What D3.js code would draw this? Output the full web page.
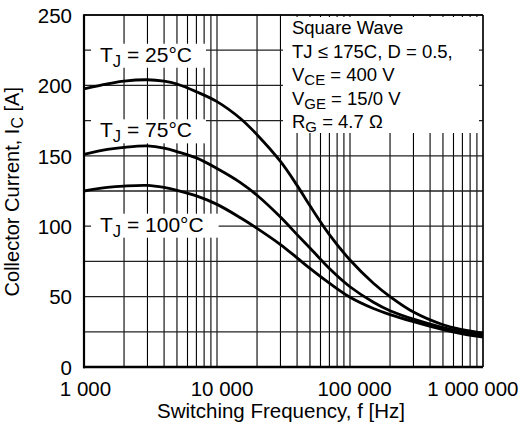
<!DOCTYPE html>
<html><head><meta charset="utf-8">
<script src="https://cdn.jsdelivr.net/npm/d3@7"></script>
<style>
body{margin:0;background:#fff}
svg{display:block}
text{font-family:"Liberation Sans",Arial,Helvetica,sans-serif;fill:#000}
</style>
</head><body>
<svg id="chart" width="525" height="428"></svg>
<script>
// ---- data ----
const freq   = [1000,1500,2000,3000,4000,5000,7000,10000,15000,20000,30000,40000,50000,70000,100000,150000,200000,300000,500000,700000,1000000];
const tj25   = [197.5,201,203,204,203,201,195.5,188.5,176.5,165,146,129,114.5,94,76,59.5,50,39,30,26.5,24];
const tj75   = [151,154.5,156,157,155.5,153,148.5,141,131,122,106.5,94,84.5,70,57,46,40,34,28,25,22.7];
const tj100  = [125,127.5,128.5,129,127.5,125.5,121.5,115.5,106,98.5,87,77.5,70,59.5,49.5,41.5,37.2,32.2,26.5,23.5,21.2];
const seriesTemps = ["25","75","100"];
const labelFreq   = [1320,1320,1320];
const labelValue  = [216.8,163.1,96.1];
const xTicks      = [1000,10000,100000,1000000];
const xTickLabels = ["1 000","10 000","100 000","1 000 000"];
const yTicks      = [0,50,100,150,200,250];
const legendLines = [["Square Wave","",""],["TJ \u2264 175C, D = 0.5,","",""],["V","CE"," = 400 V"],["V","GE"," = 15/0 V"],["R","G"," = 4.7 \u03A9"]];

// ---- layout ----
const W = 525, H = 428;
const m = {top:15, right:42, bottom:61, left:84};
const iw = W - m.left - m.right, ih = H - m.top - m.bottom;
const svg = d3.select("#chart");
const g = svg.append("g").attr("transform",`translate(${m.left},${m.top})`);

const x = d3.scaleLog().domain([1000,1000000]).range([0,iw]);
const y = d3.scaleLinear().domain([0,250]).range([ih,0]);

// grid
const vGrid = [];
for (let d=1000; d<1000000; d*=10) for (let k=1;k<=9;k++) vGrid.push(k*d);
vGrid.push(1000000);
const hGrid = d3.range(0,251,25);
g.append("g").selectAll("line").data(vGrid).join("line")
  .attr("x1",d=>x(d)).attr("x2",d=>x(d)).attr("y1",0).attr("y2",ih)
  .attr("stroke","#000").attr("stroke-width",1.1);
g.append("g").selectAll("line").data(hGrid).join("line")
  .attr("x1",0).attr("x2",iw).attr("y1",d=>y(d)).attr("y2",d=>y(d))
  .attr("stroke","#222").attr("stroke-width",1.3);

// legend box (white, hides grid)
const lg = g.append("g");
const lbx = x(30000)+2.5, lby = 2, lbw = iw-4-lbx, lbh = 116;
lg.append("rect").attr("x",lbx).attr("y",lby).attr("width",lbw).attr("height",lbh).attr("fill","#fff");

// curves
const series = [tj25,tj75,tj100];
const line = d3.line().x(d=>x(d[0])).y(d=>y(d[1])).curve(d3.curveCatmullRom.alpha(0.5));
const labelLayer = g.append("g");
g.append("g").selectAll("path").data(series).join("path")
  .attr("d",s=>line(freq.map((f,i)=>[f,s[i]])))
  .attr("fill","none").attr("stroke","#000").attr("stroke-width",2.8)
  .attr("stroke-linejoin","round");

// curve labels with white backing boxes
seriesTemps.forEach((t,i)=>{
  const lx = x(labelFreq[i]), ly = y(labelValue[i]);
  const bg = labelLayer.append("rect").attr("fill","#fff");
  const tx = labelLayer.append("text").attr("x",lx).attr("y",ly).attr("font-size",21);
  tx.append("tspan").text("T");
  tx.append("tspan").attr("font-size",16.5).attr("dy",5).text("J");
  tx.append("tspan").attr("dy",-5).text(` = ${t}\u00B0C`);
  const len = tx.node().getComputedTextLength();
  bg.attr("x",lx-9).attr("y",ly-18).attr("width",len+9+(i===2?15:14)).attr("height",24);
});

// legend text
legendLines.forEach((l,i)=>{
  const t = lg.append("text").attr("x",lbx+9).attr("y",19+i*23.5).attr("font-size",18.5);
  t.append("tspan").text(l[0]);
  if (l[1]) {
    t.append("tspan").attr("font-size",15).attr("dy",4).text(l[1]);
    t.append("tspan").attr("dy",-4).text(l[2]);
  }
});

// frame
g.append("line").attr("x1",0).attr("x2",iw).attr("y1",0).attr("y2",0).attr("stroke","#000").attr("stroke-width",1.5);
g.append("line").attr("x1",iw).attr("x2",iw).attr("y1",0).attr("y2",ih).attr("stroke","#000").attr("stroke-width",1.3);
g.append("line").attr("x1",0).attr("x2",0).attr("y1",-0.7).attr("y2",ih+1.2).attr("stroke","#000").attr("stroke-width",2.2);
g.append("line").attr("x1",-1).attr("x2",iw).attr("y1",ih).attr("y2",ih).attr("stroke","#000").attr("stroke-width",2.4);

// axes (ticks from d3 axes, tick lines hidden)
const xa = g.append("g").attr("transform",`translate(0,${ih})`)
  .call(d3.axisBottom(x).tickValues(xTicks).tickFormat((d,i)=>xTickLabels[i]).tickSize(0).tickPadding(0));
xa.select(".domain").remove();
xa.selectAll("text").attr("font-size",20.5).attr("font-family",null).attr("dy",null).attr("y",29)
  .attr("dx",(d,i)=>[1,4.5,4,0][i])
  .attr("text-anchor",(d,i)=>i===3?"end":"middle")
  .attr("x",(d,i)=>i===3?35:0);
const ya = g.append("g")
  .call(d3.axisLeft(y).tickValues(yTicks).tickSize(0).tickPadding(12));
ya.select(".domain").remove();
ya.selectAll("text").attr("font-size",20.5).attr("font-family",null).attr("dy","0.36em");

// axis titles
g.append("text").attr("x",iw/2-2.5).attr("y",ih+51).attr("text-anchor","middle").attr("font-size",20.5)
  .text("Switching Frequency, f [Hz]");
const yt = g.append("text").attr("transform",`translate(${18.6-m.left},${ih/2+0.7}) rotate(-90)`)
  .attr("text-anchor","middle").attr("font-size",20);
yt.append("tspan").text("Collector Current, I");
yt.append("tspan").attr("font-size",16).attr("dy",4).text("C");
yt.append("tspan").attr("dy",-4).text(" [A]");
</script>
</body></html>
